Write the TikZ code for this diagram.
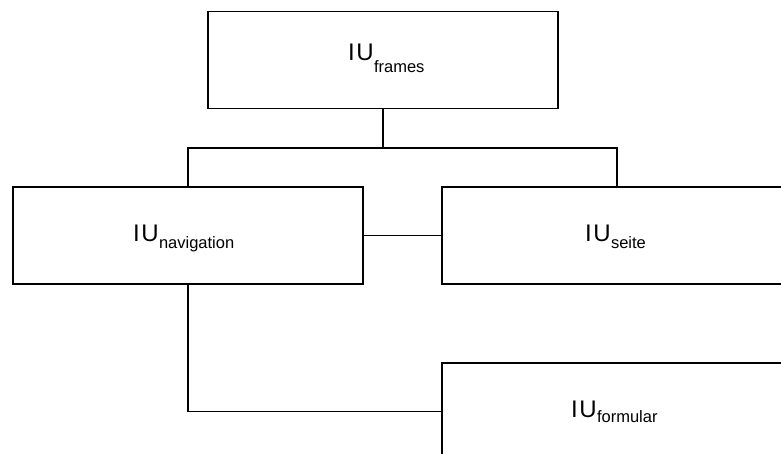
\documentclass[tikz,border=0pt]{standalone}
\usepackage{fontspec}
\setmainfont{Liberation Sans}
\begin{document}
\begin{tikzpicture}[x=1pt,y=1pt,
  box/.style={draw,line width=1.6pt,minimum width=350pt,minimum height=97pt,inner sep=0pt,anchor=center},
  lbl/.style={inner sep=0pt,anchor=base west},
  conn/.style={line width=1.6pt}]
\newcommand{\iulabel}[2]{{\fontsize{24}{28}\selectfont I\kern1.5pt U}\kern0.3pt\raisebox{-#1}{\fontsize{16.5}{19}\selectfont #2}}
\useasboundingbox (0,0) rectangle (781,-454);
\node[box] (frames) at (383,-60) {};
\node[lbl] (frameslbl) at (348,-61) {\iulabel{12pt}{frames}};
\node[box] (nav) at (188,-235.5) {};
\node[lbl] (navlbl) at (133,-242) {\iulabel{6.5pt}{navigation}};
\node[box] (seite) at (617,-235.5) {};
\node[lbl] (seitelbl) at (585,-242) {\iulabel{7pt}{seite}};
\node[box] (formular) at (617,-411.5) {};
\node[lbl] (formularlbl) at (571,-417) {\iulabel{5pt}{formular}};
\draw[conn] (frames.south) -- (383,-148) coordinate (junction);
\draw[conn] (nav.north) |- (junction) -| (seite.north);
\draw[conn] (nav.east) -- (seite.west);
\draw[conn] (nav.south) |- (formular.west);
\end{tikzpicture}
\end{document}
